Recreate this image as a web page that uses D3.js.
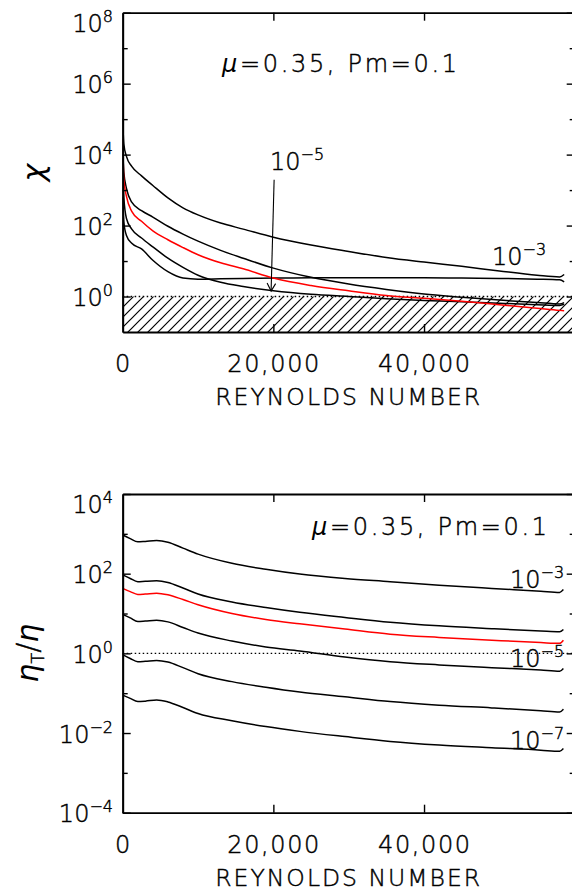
<!DOCTYPE html>
<html><head><meta charset="utf-8">
<script src="https://cdn.jsdelivr.net/npm/d3@7"></script>
<style>
body{margin:0;background:#fff}
svg{display:block}
text{font-family:"DejaVu Sans","Liberation Sans",sans-serif;font-weight:200;fill:#000;stroke:#000;stroke-width:0.45px}
text .gk, text.gk{stroke-width:0}
</style>
</head><body><svg id="c" width="572" height="895"></svg>
<script>
// ---------- DATA ----------
// Top panel: chi vs Reynolds number
const reTop = [0,150,500,1200,2500,4000,6000,8000,10000,13000,16000,20000,25000,30000,35000,40000,45000,50000,55000,58000,58600];
const chiA   = [95500,19950,8913,4677,2512,1349,602.6,316.2,199.5,117.5,79.4,46.8,28.2,18.6,12.6,9.33,7.08,5.25,3.98,3.55,4.17]; // 10^-3
const chiB   = [631,125.9,52.5,31.6,21.9,10.5,5.01,3.31,3.09,3.16,3.24,3.31,3.39,3.39,3.39,3.39,3.31,3.24,3.09,2.95,2.57];
const chiC   = [15850,3162,1122,457,263,174,95.5,57.5,36.3,20.0,12.0,6.31,3.47,2.24,1.58,1.17,0.955,0.794,0.676,0.617,0.676];
const chiRed = [28180,1995,661,251,131.8,70.8,39.8,24.0,15.1,8.91,6.03,3.31,2.04,1.45,1.07,0.891,0.741,0.589,0.468,0.407,0.398];
const chiD   = [7943,631,158.5,79.4,44.7,25.1,12.0,6.61,3.98,2.51,1.91,1.45,1.15,1.0,0.871,0.776,0.708,0.646,0.589,0.562,0.603]; // 10^-5

// Bottom panel: eta_T/eta vs Reynolds number
const reBot  = [0,1000,2000,3000,4500,6000,8000,10000,14500,19000,23500,29500,35500,42000,49000,55500,58000,58500];
const etaA   = [933,759,631,646,676,617,437,309,182,129,97.7,75.9,63.1,51.3,42.7,36.3,33.9,39.8]; // 10^-3
const etaB   = [93.3,75.9,63.1,64.6,66.1,60.3,43.7,30.9,19.5,14.1,10.7,7.94,6.03,4.90,4.17,3.63,3.47,3.98];
const etaRed = [42.7,35.5,30.2,30.9,32.4,29.5,22.4,16.6,10.0,7.08,5.50,4.07,3.02,2.51,2.14,1.86,1.78,2.14];
const etaC   = [9.55,7.76,6.31,6.46,6.76,6.17,4.47,3.24,2.04,1.45,1.15,0.813,0.617,0.513,0.437,0.380,0.355,0.417]; // 10^-5
const etaD   = [0.933,0.741,0.617,0.631,0.661,0.603,0.437,0.309,0.195,0.141,0.107,0.0813,0.0617,0.0501,0.0427,0.0363,0.0339,0.0398];
const etaE   = [0.0891,0.0741,0.0617,0.0631,0.0676,0.0603,0.0437,0.0309,0.0204,0.0145,0.0110,0.00813,0.00617,0.00501,0.00427,0.00372,0.00347,0.00407]; // 10^-7

const xTicks = [0,20000,40000];
const chiMajor = [1,1e2,1e4,1e6,1e8];
const chiMinor = [10,1e3,1e5,1e7];
const etaMajor = [1e-4,1e-2,1,1e2,1e4];
const etaMinor = [1e-3,1e-1,10,1e3];
const xTitle = "REYNOLDS NUMBER";
const paramText = "=0.35, Pm=0.1";

// ---------- LAYOUT ----------
const svg = d3.select("#c");
const X0 = 122.7, X1 = 574.7;
const x = d3.scaleLinear().domain([0,60000]).range([X0,X1]);
const yT = d3.scaleLog().domain([0.1,1e8]).range([332,12.7]);
const yB = d3.scaleLog().domain([1e-4,1e4]).range([812.7,494]);

const defs = svg.append("defs");
const pat = defs.append("pattern").attr("id","hatch").attr("patternUnits","userSpaceOnUse")
  .attr("width",10).attr("height",10);
pat.append("path").attr("d","M-1,1 l2,-2 M0,10 l10,-10 M9,11 l2,-2")
  .attr("stroke","#000").attr("stroke-width",1.2);

function clip(id, y){
  const r = y.range();
  defs.append("clipPath").attr("id",id).append("rect")
    .attr("x",X0).attr("y",r[1]).attr("width",X1-X0).attr("height",r[0]-r[1]);
}
clip("clipT", yT); clip("clipB", yB);

function supLabel(g, xr, yb, exp, anchor){
  const t = g.append("text").attr("x",xr).attr("y",yb).attr("text-anchor",anchor||"end")
    .style("font-size","24px");
  t.append("tspan").text("10");
  t.append("tspan").attr("dy",-10).style("font-size","16px").text(exp);
  return t;
}
function expStr(v){ const e = Math.round(Math.log10(v)); return e<0 ? "\u2212"+(-e) : String(e); }

function frame(y, majors, minors){
  const r = y.range(); const yb = r[0], yt = r[1];
  const g = svg.append("g");
  const style = sel => { sel.select(".domain").attr("stroke","#000").attr("stroke-width",1.8);
                         sel.selectAll(".tick line").attr("stroke","#000").attr("stroke-width",1.4); };
  g.append("g").attr("transform",`translate(${X0},0)`)
    .call(d3.axisLeft(y).tickValues(majors).tickSizeInner(-8).tickSizeOuter(0).tickFormat("")).call(style);
  g.append("g").attr("transform",`translate(${X0},0)`)
    .call(d3.axisLeft(y).tickValues(minors).tickSizeInner(-5).tickSizeOuter(0).tickFormat("")).call(style);
  g.append("g").attr("transform",`translate(${X1},0)`)
    .call(d3.axisRight(y).tickValues(majors).tickSizeInner(-8).tickSizeOuter(0).tickFormat("")).call(style);
  g.append("g").attr("transform",`translate(${X1},0)`)
    .call(d3.axisRight(y).tickValues(minors).tickSizeInner(-5).tickSizeOuter(0).tickFormat("")).call(style);
  g.append("g").attr("transform",`translate(0,${yb})`)
    .call(d3.axisBottom(x).tickValues(xTicks.slice(1)).tickSizeInner(-8).tickSizeOuter(0).tickFormat("")).call(style);
  g.append("g").attr("transform",`translate(0,${yt})`)
    .call(d3.axisTop(x).tickValues(xTicks.slice(1)).tickSizeInner(-8).tickSizeOuter(0).tickFormat("")).call(style);
  g.selectAll("text").remove();
  majors.forEach(v=>{
    const py = y(v);
    const yb2 = (Math.abs(py-yt)<1) ? py+19 : py+9.5;
    supLabel(g, 113, yb2, expStr(v));
  });
  xTicks.forEach(v=>{
    const s = d3.format(",")(v);
    const t = g.append("text").attr("x",x(v)).attr("y",yb+40).attr("text-anchor","middle")
      .style("font-size","24px").text(s);
    if (s.length>1) t.attr("textLength",92).attr("lengthAdjust","spacing");
  });
  g.append("text").attr("x",(X0+X1)/2-1).attr("y",yb+73).attr("text-anchor","middle")
    .style("font-size","23.5px").attr("textLength",265).attr("lengthAdjust","spacing").text(xTitle);
  return g;
}

const line = (y) => d3.line().x(d=>x(d[0])).y(d=>y(d[1])).curve(d3.curveMonotoneX);

// ---------- TOP PANEL ----------
const topG = svg.append("g");
topG.append("rect").attr("x",X0).attr("y",yT(1)).attr("width",X1-X0).attr("height",yT(0.1)-yT(1))
  .attr("fill","url(#hatch)");
topG.append("line").attr("x1",X0).attr("x2",X1).attr("y1",yT(1)).attr("y2",yT(1))
  .attr("stroke","#000").attr("stroke-width",1.3).attr("stroke-dasharray","1.5,2.5");
const cT = topG.append("g").attr("clip-path","url(#clipT)");
[[chiA,"#000"],[chiB,"#000"],[chiC,"#000"],[chiD,"#000"],[chiRed,"#ff0000"]].forEach(([s,col])=>{
  cT.append("path").datum(reTop.map((r,i)=>[r,s[i]])).attr("d",line(yT))
    .attr("fill","none").attr("stroke",col).attr("stroke-width",1.5);
});
frame(yT, chiMajor, chiMinor);
const ax1 = x(20100), ay1 = yT(1950), ax2 = x(19700), ay2 = yT(1.42);
topG.append("line").attr("x1",ax1).attr("y1",ay1).attr("x2",ax2).attr("y2",ay2).attr("stroke","#000").attr("stroke-width",1.1);
topG.append("path").attr("d",`M${ax2-4},${ay2-8} L${ax2},${ay2} L${ax2+4.5},${ay2-7.5}`)
  .attr("fill","none").attr("stroke","#000").attr("stroke-width",1.1);
supLabel(topG, 270, 170, "\u22125", "start");
supLabel(topG, 492, 265, "\u22123", "start");
const pt = topG.append("text").attr("x",222).attr("y",72).style("font-size","24px")
  .attr("textLength",235).attr("lengthAdjust","spacing");
pt.append("tspan").attr("class","gk").style("font-style","italic").text("\u03bc");
pt.append("tspan").text(paramText);
topG.append("text").attr("class","gk").attr("transform","translate(44,172.5) rotate(-90)").attr("text-anchor","middle")
  .style("font-size","30px").style("font-weight","400").style("font-style","italic").text("\u03c7");

// ---------- BOTTOM PANEL ----------
const botG = svg.append("g");
botG.append("line").attr("x1",X0).attr("x2",X1).attr("y1",yB(1)).attr("y2",yB(1))
  .attr("stroke","#000").attr("stroke-width",1.3).attr("stroke-dasharray","1.5,2.5");
const cB = botG.append("g").attr("clip-path","url(#clipB)");
[[etaA,"#000"],[etaB,"#000"],[etaC,"#000"],[etaD,"#000"],[etaE,"#000"],[etaRed,"#ff0000"]].forEach(([s,col])=>{
  cB.append("path").datum(reBot.map((r,i)=>[r,s[i]])).attr("d",line(yB))
    .attr("fill","none").attr("stroke",col).attr("stroke-width",1.5);
});
frame(yB, etaMajor, etaMinor);
supLabel(botG, 510, 588, "\u22123", "start");
supLabel(botG, 510, 667, "\u22125", "start");
supLabel(botG, 510, 749, "\u22127", "start");
const pb = botG.append("text").attr("x",312).attr("y",535).style("font-size","24px")
  .attr("textLength",235).attr("lengthAdjust","spacing");
pb.append("tspan").attr("class","gk").style("font-style","italic").text("\u03bc");
pb.append("tspan").text(paramText);
const yl = botG.append("text").attr("transform","translate(38,653.3) rotate(-90)").attr("text-anchor","middle")
  .style("font-size","30px");
yl.append("tspan").attr("class","gk").style("font-style","italic").text("\u03b7");
yl.append("tspan").attr("dy",6).style("font-size","18px").text("T");
yl.append("tspan").attr("dy",-6).text("/");
yl.append("tspan").attr("class","gk").style("font-style","italic").text("\u03b7");
</script>
</body></html>
